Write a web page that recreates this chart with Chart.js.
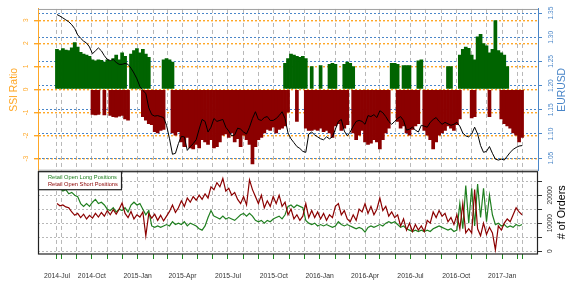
<!DOCTYPE html>
<html>
<head>
<meta charset="utf-8">
<script src="https://cdn.jsdelivr.net/npm/chart.js@4"></script>
<style>
	html, body { margin: 0; padding: 0; background: #fff; }
	#wrap { width: 576px; height: 288px; }
</style>
</head>
<body>
<div id="wrap"><canvas id="ssiChart"></canvas></div>
<script>
// sample dates: first and last observation, samples evenly spaced between them
const firstDate = '2014-07-23'
const lastDate = '2017-02-10'

// SSI ratio, positive side (longs > shorts), null where no long bar
const ssiPos = [
	1.75, 1.7, 1.78, 1.72, 1.7, 1.82, 2.05, 1.85, 1.62, 1.55, 1.5, 1.45,
	1.3, 1.25, 1.3, 1.28, 1.2, 1.3, 1.25, 1.35, 1.5, 1.3, 1.6, 1.45,
	null, 1.55, 1.7, 1.78, 1.6, 1.75, 1.55, 1.4, null, null, null, null,
	1.3, 1.35, 1.3, 1.2, null, null, null, null, null, null, null, null,
	null, null, null, null, null, null, null, null, null, null, null, null,
	null, null, null, null, null, null, null, null, null, null, null, null,
	null, null, null, null, null, 1.15, 1.35, 1.55, 1.5, 1.45, 1.4, 1.45,
	1.35, null, 1.0, null, null, 1.05, null, null, 1.1, 1.15, 1.1, null,
	null, 1.1, 1.2, 1.15, 1.0, null, null, null, null, null, null, null,
	null, null, null, null, null, 1.15, 1.15, 1.1, null, 1.05, 1.05, 1.05,
	null, null, 1.25, 1.3, null, null, null, null, null, null, null, null,
	1.0, 1.0, null, null, 1.5, 1.75, 1.85, 1.8, 1.5, 1.3, 2.3, 2.4,
	2.0, 1.9, 1.6, 1.75, 3.0, 1.7, 1.6, 1.5, 1.0, null, null, null,
	null, null
]
// SSI ratio, negative side (shorts > longs)
const ssiNeg = [
	null, null, null, null, null, null, null, null, null, null, null, null,
	-1.1, -1.12, -1.1, null, -1.12, null, -1.15, -1.2, -1.22, -1.18, -1.15, -1.3,
	-1.35, null, null, null, null, -1.2, -1.35, -1.5, -1.55, -1.85, -1.9, -1.8,
	-1.75, null, null, -1.9, -2.0, -1.85, -2.3, -2.5, -2.1, -2.55, -2.6, -2.4,
	-2.55, -2.2, -2.3, -2.4, -2.2, -2.55, -2.5, -2.3, -2.0, -1.95, -2.1, -1.9,
	-2.3, -2.15, -2.5, -2.0, -2.2, -2.4, -3.25, -2.5, -2.2, -2.1, -1.9, -1.75,
	-1.8, -1.65, -1.9, -1.75, -1.7, -1.6, -1.0, null, null, -1.4, null, null,
	-1.7, -1.8, -1.8, -1.75, -1.8, -1.7, -1.85, -1.8, -1.9, -2.1, -1.6, -1.5,
	-1.8, -1.7, -1.55, null, -1.9, -2.2, -2.0, -1.8, -2.3, -2.4, -2.35, -2.2,
	-2.3, -2.6, -2.2, -1.9, -1.7, null, null, -1.4, -1.7, -1.6, -1.9, -2.0,
	-1.75, -1.6, -1.5, null, -1.8, -2.0, -2.2, -2.6, -2.3, -2.0, -1.9, -1.8,
	-1.6, -1.7, -1.8, -1.55, -1.3, null, null, null, -1.25, -1.2, null, null,
	null, null, -1.2, null, null, null, -1.3, -1.5, -1.6, -1.7, -1.9, -2.0,
	-2.3, -2.1
]
const eurusd = [
	1.347, 1.344, 1.340, 1.336, 1.332, 1.326, 1.318, 1.305, 1.298, 1.292, 1.288, 1.280,
	1.266, 1.272, 1.278, 1.272, 1.262, 1.254, 1.252, 1.254, 1.248, 1.244, 1.244, 1.246,
	1.244, 1.236, 1.226, 1.214, 1.198, 1.190, 1.184, 1.154, 1.140, 1.137, 1.138, 1.136,
	1.134, 1.118, 1.090, 1.058, 1.060, 1.080, 1.095, 1.094, 1.066, 1.074, 1.080, 1.088,
	1.110, 1.130, 1.126, 1.104, 1.114, 1.132, 1.126, 1.128, 1.130, 1.114, 1.106, 1.096,
	1.098, 1.112, 1.110, 1.104, 1.100, 1.114, 1.132, 1.146, 1.130, 1.128, 1.134, 1.136,
	1.128, 1.128, 1.132, 1.138, 1.146, 1.132, 1.102, 1.090, 1.082, 1.074, 1.070, 1.064,
	1.062, 1.100, 1.104, 1.098, 1.094, 1.090, 1.088, 1.094, 1.090, 1.094, 1.110, 1.126,
	1.130, 1.106, 1.096, 1.104, 1.116, 1.126, 1.128, 1.126, 1.120, 1.138, 1.136, 1.140,
	1.134, 1.148, 1.144, 1.136, 1.126, 1.120, 1.126, 1.132, 1.136, 1.128, 1.108, 1.110,
	1.114, 1.108, 1.104, 1.118, 1.116, 1.114, 1.124, 1.130, 1.134, 1.126, 1.120, 1.124,
	1.121, 1.118, 1.120, 1.124, 1.116, 1.102, 1.096, 1.094, 1.100, 1.114, 1.100, 1.076,
	1.062, 1.064, 1.074, 1.060, 1.048, 1.046, 1.048, 1.046, 1.054, 1.062, 1.068, 1.072,
	1.075, 1.076
]
const longOrders = [
	23000, 22500, 21500, 22000, 20500, 21000, 20000, 19500, 17000, 16000, 17000, 16000,
	17500, 18500, 17000, 17500, 16500, 15000, 14500, 15500, 14000, 15000, 14500, 15500,
	14000, 16500, 17500, 16500, 17000, 15000, 13000, 14500, 9000, 8500, 9000, 8500,
	9000, 9500, 9000, 10500, 9500, 10000, 9500, 10500, 9000, 10000, 9500, 9000,
	8000, 7500, 9000, 12000, 14500, 12500, 12000, 11500, 12500, 11500, 12000, 11500,
	11000, 12000, 13000, 13500, 12500, 13500, 12500, 11000, 10500, 11000, 10000, 11000,
	10500, 11500, 12000, 12500, 11500, 13000, 16000, 16500, 15500, 16500, 16000, 15500,
	11000, 10000, 9500, 10000, 9000, 9500, 9000, 9500, 9000, 8500, 9000, 10500,
	9500, 9000, 9500, 9000, 8500, 8000, 8500, 8000, 6800, 8500, 9000, 8500,
	9000, 9500, 9000, 10000, 10500, 10000, 10500, 9500, 8500, 9000, 8000, 7500,
	7000, 7500, 7000, 7500, 7000, 7500, 7000, 8000, 8500, 9000, 8500, 8000,
	7500, 8000, 7000, 7500, 17000, 8000, 23500, 10000, 22500, 9000, 24000, 12000,
	22500, 10500, 20000, 13000, 9500, 10000, 9000, 9500, 8500, 9000, 8500, 9500,
	9000, 9500
]
const shortOrders = [
	17000, 16200, 16500, 15800, 15500, 14000, 12800, 13500, 12000, 13200, 11500, 12800,
	11800, 13500, 12200, 13800, 12500, 14500, 13000, 14800, 13200, 15000, 17200, 13500,
	12000, 14200, 11500, 13000, 12200, 14000, 5500, 13500, 11800, 13200, 11000, 12800,
	10800, 12500, 14200, 16500, 13800, 15500, 18000, 16000, 19000, 17500, 19500, 18200,
	20000, 18500, 20500, 19000, 23000, 22000, 24500, 23000, 26000, 21500, 22500, 20000,
	21000, 18500, 17000, 19500, 16500, 25500, 22000, 19500, 17000, 20000, 15500, 18000,
	16000, 19500, 17000, 20000, 16000, 17500, 13000, 15000, 11500, 13000, 11000, 12500,
	17000, 12000, 14500, 12000, 14000, 11500, 13500, 11000, 13000, 12000, 16000, 17000,
	13000, 14500, 11500, 10500, 13000, 11000, 15000, 14000, 17000, 13500, 16000, 13000,
	15000, 19000, 14500, 16000, 12500, 14000, 12000, 13000, 9000, 11500, 7500, 10000,
	7000, 9500, 7500, 9000, 7000, 11000, 10000, 14000, 12000, 14500, 12500, 13500,
	10500, 12000, 9500, 13000, 8000, 17000, 6500, 8000, 6500, 22000, 8000, 5500,
	10000, 6000, 8500, 6500, 500, 9000, 7500, 10000, 11500, 10500, 13000, 15500,
	14000, 13000
]

const ssiTicks = [-3, -2, -1, 0, 1, 2, 3]
const eurTicks = [1.05, 1.10, 1.15, 1.20, 1.25, 1.30, 1.35]
const orderTicks = [0, 5000, 10000, 15000, 20000, 25000]
const orderLabels = [0, 10000, 20000]
const monthNames = ['Jan', 'Feb', 'Mar', 'Apr', 'May', 'Jun', 'Jul', 'Aug', 'Sep', 'Oct', 'Nov', 'Dec']
const legendLabels = ['Retail Open Long Positions', 'Retail Open Short Positions']

const orange = '#ffa726'
const blue = '#4a86c8'
const gridGray = '#b8b8b8'
const font = '"Liberation Sans", Arial, sans-serif'

let dayOf = s => (Date.parse(s) - Date.parse('2014-07-01')) / 864e5
let d0 = dayOf(firstDate)
let d1 = dayOf(lastDate)
let days = eurusd.map((v, i) => d0 + i * (d1 - d0) / (eurusd.length - 1))
let pts = arr => arr.map((v, i) => ({ x: days[i], y: v }))

// x ticks: first observation, every month start, last observation
let xTicks = [{ value: d0, label: '2014-Jul' }]
for (let k = 0; k <= 30; k++) {
	let dt = new Date(Date.UTC(2014, 7 + k, 1))
	let m = dt.getUTCMonth()
	xTicks.push({
		value: dayOf(dt.toISOString().slice(0, 10)),
		label: m % 3 === 0 ? dt.getUTCFullYear() + '-' + monthNames[m] : ''
	})
}
xTicks.push({ value: d1, label: '' })

Chart.defaults.font.family = font

let panels = {
	id: 'panels',
	afterDraw: chart => {
		let ctx = chart.ctx
		let s = chart.scales
		let x = s.x, top = s.ssi, low = s.orders
		ctx.save()
		// frame of the upper panel
		ctx.strokeStyle = '#a0a0a0'
		ctx.lineWidth = 1
		ctx.beginPath()
		ctx.moveTo(x.left, top.top + 0.5)
		ctx.lineTo(x.right, top.top + 0.5)
		ctx.moveTo(x.left, top.bottom - 0.5)
		ctx.lineTo(x.right, top.bottom - 0.5)
		ctx.stroke()
		// box of the lower panel
		ctx.strokeStyle = '#222'
		ctx.lineWidth = 1.2
		ctx.strokeRect(x.left + 0.5, low.top + 1, x.right - x.left - 1, low.bottom - low.top - 1)
		// legend
		let lw = 83, lh = 18
		ctx.fillStyle = '#fff'
		ctx.fillRect(x.left + 0.5, low.top + 1, lw, lh)
		ctx.strokeRect(x.left + 0.5, low.top + 1, lw, lh)
		ctx.font = '5.7px ' + font
		ctx.textBaseline = 'middle'
		ctx.textAlign = 'left'
		let cols = [chart.data.datasets[2].borderColor, chart.data.datasets[1].borderColor]
		legendLabels.forEach((t, i) => {
			ctx.fillStyle = cols[i]
			ctx.fillText(t, x.left + 10, low.top + 7 + i * 6.7)
		})
		// right-hand titles, read bottom to top
		let side = (text, color, size, sc) => {
			ctx.save()
			ctx.translate(sc.right - 14, (sc.top + sc.bottom) / 2)
			ctx.rotate(-Math.PI / 2)
			ctx.fillStyle = color
			ctx.font = size + 'px ' + font
			ctx.textAlign = 'center'
			ctx.textBaseline = 'middle'
			ctx.fillText(text, 0, 0)
			ctx.restore()
		}
		side('EURUSD', blue, 10.4, s.eur)
		side('# of Orders', '#000', 10.8, s.orders)
		ctx.restore()
	}
}

new Chart(document.getElementById('ssiChart'), {
	type: 'bar',
	data: {
		datasets: [
			{ type: 'line', label: 'EURUSD', data: pts(eurusd), yAxisID: 'eur',
				borderColor: '#000', borderWidth: 1, pointRadius: 0, tension: 0 },
			{ type: 'line', label: legendLabels[1], data: pts(shortOrders), yAxisID: 'orders',
				borderColor: '#8b0000', borderWidth: 1.2, pointRadius: 0, tension: 0 },
			{ type: 'line', label: legendLabels[0], data: pts(longOrders), yAxisID: 'orders',
				borderColor: '#1f7f1f', borderWidth: 1.2, pointRadius: 0, tension: 0 },
			{ label: 'SSI long', data: pts(ssiPos), yAxisID: 'ssi', backgroundColor: '#006400',
				barPercentage: 1.25, categoryPercentage: 1, grouped: false, borderWidth: 0 },
			{ label: 'SSI short', data: pts(ssiNeg), yAxisID: 'ssi', backgroundColor: '#8b0000',
				barPercentage: 1.25, categoryPercentage: 1, grouped: false, borderWidth: 0 }
		]
	},
	options: {
		responsive: true,
		maintainAspectRatio: false,
		animation: false,
		layout: { padding: { top: 1, left: 0, right: 0, bottom: 0 } },
		plugins: { legend: { display: false }, tooltip: { enabled: false } },
		scales: {
			x: {
				type: 'linear', offset: false, bounds: 'data', z: 1,
				min: dayOf('2014-06-15'), max: dayOf('2017-03-14'),
				afterBuildTicks: s => { s.ticks = xTicks.map(t => ({ value: t.value })) },
				afterFit: s => { s.height = 34 },
				grid: { offset: false, color: gridGray, tickColor: '#228b22', tickLength: 5, tickBorderDash: [] },
				border: { display: false, dash: [4, 3] },
				ticks: { autoSkip: false, maxRotation: 0, minRotation: 0, padding: 13, color: '#333',
					font: { size: 6.8 }, callback: (v, i) => xTicks[i] ? xTicks[i].label : '' }
			},
			ssi: {
				position: 'left', stack: 'left', stackWeight: 167, weight: 1, z: 1,
				min: -3.53, max: 3.49, bounds: 'data',
				afterBuildTicks: s => { s.ticks = ssiTicks.map(value => ({ value })) },
				afterFit: s => { s.width = 38 },
				grid: { color: orange, lineWidth: 1.4, tickLength: 4, tickColor: orange },
				border: { color: orange, width: 1, dash: [2, 2] },
				ticks: { autoSkip: false, color: orange, font: { size: 6.6 }, minRotation: 90, maxRotation: 90,
					crossAlign: 'center', padding: 5, callback: v => String(v) },
				title: { display: true, text: 'SSI Ratio', color: orange, font: { size: 10.4 },
					padding: { top: 8, bottom: 0 } }
			},
			low: {
				position: 'left', stack: 'left', stackWeight: 86, weight: 0,
				min: 0, max: 1,
				afterBuildTicks: s => { s.ticks = [] },
				afterFit: s => { s.width = 38 },
				grid: { display: false },
				border: { display: false },
				ticks: { display: false }
			},
			eur: {
				position: 'right', stack: 'right', stackWeight: 167, weight: 0, z: 1,
				min: 1.024, max: 1.3586, bounds: 'data',
				afterBuildTicks: s => { s.ticks = eurTicks.map(value => ({ value })) },
				afterFit: s => { s.width = 38 },
				grid: { color: blue, lineWidth: 1, tickLength: 4, tickColor: blue },
				border: { color: blue, width: 1, dash: [2, 2] },
				ticks: { autoSkip: false, color: blue, font: { size: 6.6 }, minRotation: 90, maxRotation: 90,
					crossAlign: 'center', padding: 3, callback: v => v.toFixed(2) }
			},
			orders: {
				position: 'right', stack: 'right', stackWeight: 86, weight: 1, z: 1,
				min: -1040, max: 28770, bounds: 'data',
				afterBuildTicks: s => { s.ticks = orderTicks.map(value => ({ value })) },
				afterFit: s => { s.width = 38 },
				grid: { color: gridGray, lineWidth: 1, tickLength: 4, tickColor: '#333' },
				border: { display: false, dash: [2, 2] },
				ticks: { autoSkip: false, color: '#333', font: { size: 6.6 }, minRotation: 90, maxRotation: 90,
					crossAlign: 'center', padding: -1,
					callback: v => orderLabels.includes(v) ? String(v) : '' }
			}
		}
	},
	plugins: [panels]
})
</script>
</body>
</html>
